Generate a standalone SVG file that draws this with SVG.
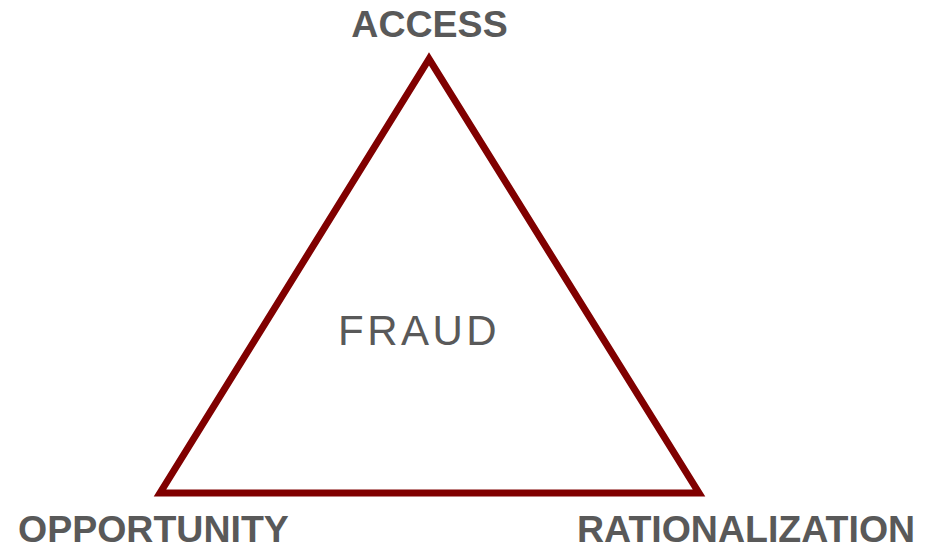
<svg xmlns="http://www.w3.org/2000/svg" width="930" height="551" viewBox="0 0 930 551">
<style>
.lbl{font-family:"Liberation Sans",Arial,sans-serif;font-weight:bold;font-size:37.5px;fill:#595959}
.ctr{font-family:"Liberation Sans",Arial,sans-serif;font-size:42px;fill:#595959;letter-spacing:3.5px}
.tri{fill:none;stroke:#800000;stroke-width:7;stroke-linejoin:miter}
</style>
<rect width="930" height="551" fill="#ffffff"/>
<g id="triangle"><polygon class="tri" points="429,59 160,493 699,493"/></g>
<g id="connectors"></g>
<g id="access"><text class="lbl" x="429.5" y="37" text-anchor="middle">ACCESS</text></g>
<g id="opportunity"><text class="lbl" x="18" y="542">OPPORTUNITY</text></g>
<g id="rationalization"><text class="lbl" x="577" y="542">RATIONALIZATION</text></g>
<g id="fraud"><text class="ctr" x="338" y="345">FRAUD</text></g>
</svg>
